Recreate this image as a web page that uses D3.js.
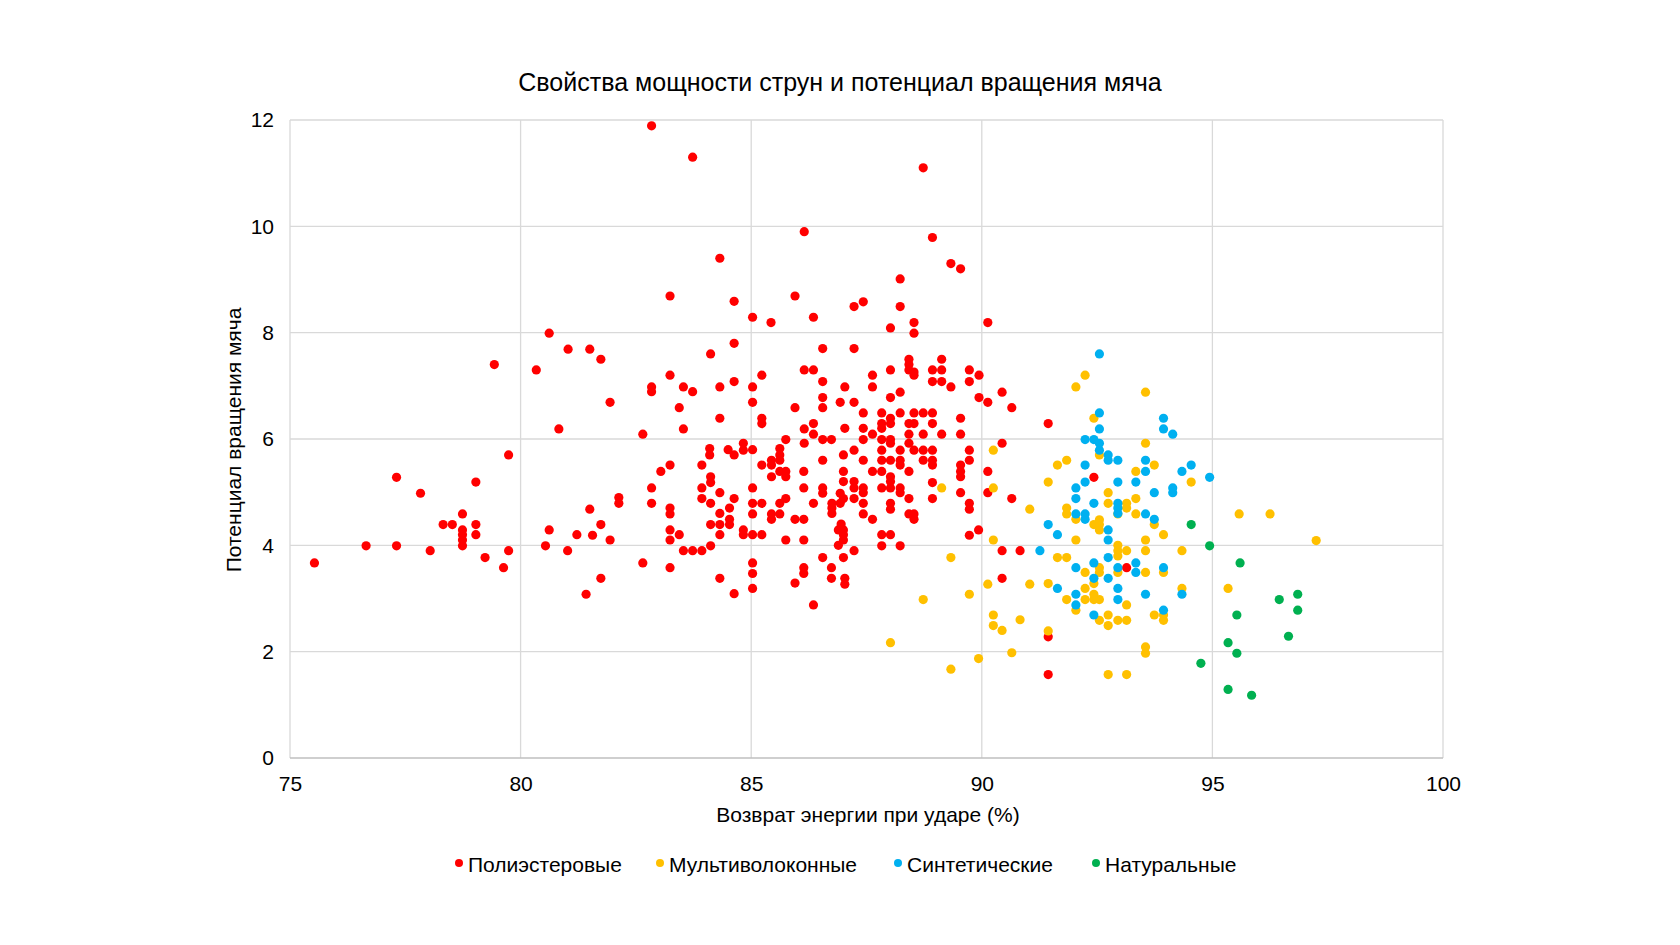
<!DOCTYPE html>
<html><head><meta charset="utf-8">
<script src="https://cdn.jsdelivr.net/npm/d3@7"></script>
<style>
html,body{margin:0;padding:0;background:#fff;}
svg text{font-family:"Liberation Sans",Arial,sans-serif;fill:#000;}
</style></head>
<body><svg id="chart" width="1680" height="945"></svg>
<script>
const chartTitle = "Свойства мощности струн и потенциал вращения мяча";
const xTitle = "Возврат энергии при ударе (%)";
const yTitle = "Потенциал вращения мяча";
const seriesNames = ["Полиэстеровые","Мультиволоконные","Синтетические","Натуральные"];
const seriesColors = ["#FF0000","#FFC000","#00B0F0","#00B050"];
const xTicks = [75,80,85,90,95,100];
const yTicks = [0,2,4,6,8,10,12];

const polyester = [
[80.62,7.99],[81.03,7.69],[81.5,7.69],[79.43,7.4],[80.34,7.3],[80.83,6.19],
[79.74,5.7],[77.31,5.28],[77.83,4.98],[79.03,5.19],[78.74,4.59],[78.32,4.39],[78.52,4.39],[78.74,4.29],[78.74,4.2],[78.74,4.1],[78.74,3.99],[79.03,4.39],[79.03,4.2],[76.65,3.99],[77.31,3.99],[78.04,3.9],[79.23,3.77],[79.74,3.9],[79.63,3.58],[75.53,3.67],[80.54,3.99],[80.62,4.29],[81.02,3.9],[81.22,4.2],[81.42,3.08],[81.5,4.68],
[82.84,11.89],[83.73,11.3],[86.15,9.9],[84.32,9.4],[83.24,8.69],[84.63,8.59],[85.03,8.29],[85.43,8.19],[85.95,8.69],[86.35,8.29],[81.74,7.5],[84.63,7.8],[84.12,7.6],[86.55,7.7],[83.24,7.2],[82.84,6.98],[82.84,6.89],[83.53,6.98],[83.73,6.89],[84.32,6.98],[84.63,7.08],[85.03,6.98],[85.23,7.2],[81.94,6.69],[83.44,6.59],[85.03,6.69],[86.15,7.3],[86.35,7.3],[86.55,7.08],[86.55,6.78],[86.55,6.59],[86.93,6.69],[85.95,6.59],[84.32,6.39],[83.53,6.19],[82.65,6.09],[85.23,6.39],[85.23,6.29],[86.15,6.19],[86.35,6.29],[86.35,6.09],[85.75,5.99],[86.55,5.99],[86.74,5.99],[84.83,5.92],[86.15,5.92],
[84.1,5.82],[84.1,5.7],[84.5,5.8],[84.63,5.7],[84.83,5.79],[85.03,5.8],[85.62,5.82],[85.62,5.7],[85.62,5.6],[83.24,5.51],[83.04,5.39],[83.93,5.51],[84.12,5.29],[84.12,5.18],[85.23,5.51],[85.44,5.6],[85.44,5.51],[85.44,5.29],[85.62,5.39],[85.75,5.39],[85.75,5.29],[86.14,5.39],[86.55,5.6],[82.84,5.08],[82.13,4.9],[82.13,4.79],[82.84,4.79],[83.93,5.08],[83.93,4.88],[84.12,4.79],[84.32,4.99],[84.63,4.88],[85.03,5.08],[85.03,4.79],[85.23,4.79],[85.62,4.79],[85.75,4.88],[86.14,5.08],[86.55,5.08],[86.55,4.98],[86.35,4.79],[86.75,4.79],[86.75,4.7],[86.75,4.6],[83.24,4.7],[83.24,4.59],[84.32,4.6],[84.53,4.7],[84.53,4.49],[84.53,4.39],[84.32,4.39],[84.12,4.39],[85.03,4.59],[85.44,4.59],[85.44,4.49],[85.62,4.59],[85.95,4.49],[86.14,4.49],[81.74,4.39],[81.56,4.19],[81.94,4.1],[83.24,4.29],[83.24,4.1],[83.44,4.2],[84.32,4.2],[84.83,4.29],[84.83,4.2],[85.03,4.2],[85.23,4.2],[85.75,4.1],[86.14,4.1],[86.89,4.29],[86.89,4.0],[83.53,3.9],[83.73,3.9],[83.93,3.9],[84.12,3.99],[82.65,3.67],[83.24,3.58],[81.74,3.38],[84.32,3.38],[84.63,3.09],[85.03,3.67],[85.03,3.47],[85.03,3.19],[85.95,3.29],[86.14,3.58],[86.14,3.47],[86.55,3.77],[86.74,3.58],[86.74,3.38],[86.35,2.88],
[88.73,11.1],[88.93,9.79],[89.33,9.3],[89.54,9.2],[88.23,9.01],[87.23,8.49],[87.43,8.58],[88.23,8.49],[88.02,8.09],[88.53,8.19],[88.53,7.99],[90.13,8.19],[87.23,7.7],[88.42,7.5],[88.42,7.4],[88.42,7.3],[88.53,7.26],[88.53,7.2],[89.13,7.5],[88.93,7.3],[89.13,7.3],[88.93,7.08],[89.13,7.08],[88.02,7.3],[87.63,7.2],[87.63,6.98],[87.03,6.98],[89.33,6.98],[89.73,7.3],[89.73,7.08],[89.94,7.2],[89.94,6.78],[90.13,6.69],[90.44,6.88],[90.65,6.59],[88.02,6.78],[88.23,6.88],[87.23,6.69],[87.43,6.49],[87.83,6.49],[88.23,6.49],[88.53,6.49],[88.73,6.49],[88.93,6.49],[88.02,6.39],[88.02,6.29],[87.83,6.29],[87.83,6.2],[88.42,6.29],[88.53,6.29],[88.93,6.29],[89.54,6.39],[87.03,6.2],[87.43,6.2],[87.63,6.09],[87.43,5.99],[87.83,5.99],[88.02,5.99],[88.42,6.09],[88.73,6.09],[89.13,6.09],[89.54,6.09],[88.42,5.92],[88.02,5.92],[90.44,5.92],
[87.23,5.79],[87.83,5.79],[88.23,5.79],[88.53,5.79],[88.73,5.79],[88.93,5.79],[89.73,5.79],[87.0,5.7],[87.43,5.6],[87.83,5.6],[88.02,5.6],[88.23,5.6],[88.23,5.51],[88.73,5.6],[88.93,5.6],[88.93,5.51],[89.73,5.6],[89.54,5.51],[89.54,5.39],[89.54,5.29],[87.0,5.39],[87.0,5.2],[87.63,5.39],[87.83,5.39],[88.42,5.39],[90.13,5.39],[88.02,5.29],[88.02,5.2],[88.02,5.08],[87.23,5.2],[87.23,5.08],[87.43,5.08],[87.43,4.99],[87.83,5.08],[88.23,5.08],[88.23,4.99],[88.93,5.18],[89.54,4.99],[90.13,4.99],[90.65,4.88],[86.93,4.98],[86.93,4.79],[87.0,4.88],[87.23,4.88],[87.43,4.79],[88.02,4.79],[88.02,4.68],[88.42,4.88],[88.93,4.88],[89.73,4.79],[89.73,4.68],[87.43,4.59],[87.63,4.49],[88.42,4.59],[88.53,4.59],[88.53,4.49],[89.93,4.29],[89.73,4.19],[86.95,4.4],[87.0,4.29],[87.0,4.2],[87.0,4.1],[87.83,4.2],[88.02,4.2],[87.83,3.99],[88.23,3.99],[87.23,3.9],[87.0,3.77],[87.03,3.38],[87.03,3.27],[90.44,3.9],[90.83,3.9],[90.44,3.38],
[91.44,6.29],[92.43,5.28],[93.14,3.58],[91.44,2.28],[91.44,1.57]
];

const multifilament = [
[90.25,5.79],[89.13,5.08],[90.25,5.08],[91.04,4.68],[90.25,4.1],[89.33,3.77],[90.13,3.27],[91.04,3.27],[89.73,3.08],[88.73,2.98],[90.25,2.69],[90.25,2.49],[90.44,2.4],[90.83,2.6],[88.02,2.17],[89.93,1.87],[90.65,1.98],[89.33,1.67],
[92.24,7.2],[92.04,6.98],[93.55,6.88],[92.43,6.39],[93.55,5.92],
[92.55,5.7],[91.64,5.51],[91.84,5.6],[93.74,5.51],[93.34,5.39],[91.44,5.19],[94.54,5.19],[92.74,4.99],[92.74,4.79],[93.34,4.88],[93.14,4.79],[93.14,4.7],[92.95,4.59],[93.34,4.59],[91.84,4.7],[91.84,4.59],[92.04,4.49],[92.43,4.39],[92.55,4.48],[92.55,4.39],[92.55,4.29],[93.74,4.39],[93.94,4.2],[92.04,4.1],[93.55,4.1],[93.55,3.9],[94.34,3.9],[92.95,4.0],[92.95,3.9],[92.95,3.8],[93.14,3.9],[91.64,3.77],[91.84,3.77],[92.55,3.58],[92.55,3.49],[92.95,3.49],[92.24,3.49],[93.55,3.49],[93.94,3.49],[92.43,3.28],[91.44,3.28],[92.24,3.19],[92.24,2.98],[92.43,3.08],[92.43,2.98],[92.55,2.98],[91.84,2.98],[92.04,2.78],[94.34,3.19],[93.14,2.88],[95.34,3.19],[93.94,2.69],[93.94,2.59],[93.74,2.69],[92.74,2.69],[92.74,2.49],[92.55,2.59],[92.95,2.59],[93.14,2.59],[91.44,2.39],[93.55,2.09],[93.55,1.97],[92.74,1.57],[93.14,1.57],[95.58,4.59],[96.25,4.59],[97.25,4.09]
];

const synthetic = [
[92.55,7.6],[92.55,6.49],[92.55,6.19],[93.94,6.39],[93.94,6.19],[94.14,6.09],[92.24,5.99],[92.43,5.99],[92.55,5.92],[92.55,5.79],[92.74,5.7],[92.74,5.6],[92.95,5.6],[92.24,5.51],[93.55,5.6],[93.55,5.39],[94.34,5.39],[94.54,5.51],[94.94,5.28],[92.24,5.19],[92.04,5.08],[92.95,5.19],[93.34,5.19],[94.14,5.08],[94.14,4.99],[93.74,4.99],[92.04,4.88],[92.43,4.79],[92.95,4.79],[92.95,4.7],[92.95,4.6],[93.55,4.59],[93.74,4.49],[92.04,4.59],[92.24,4.59],[92.24,4.49],[92.74,4.29],[91.44,4.39],[91.64,4.2],[92.74,4.1],[91.26,3.9],[92.74,3.77],[92.04,3.58],[92.43,3.67],[92.95,3.58],[93.34,3.67],[93.34,3.49],[93.94,3.58],[92.43,3.38],[92.74,3.38],[91.64,3.19],[92.95,3.19],[92.95,2.98],[92.04,3.08],[92.04,2.88],[93.55,3.08],[94.34,3.08],[92.43,2.69],[93.94,2.78]
];

const natural = [
[94.54,4.39],[94.94,3.99],[95.6,3.67],[95.53,2.69],[95.34,2.17],[95.53,1.97],[94.75,1.78],[95.34,1.29],[95.85,1.18],[96.45,2.98],[96.85,3.08],[96.85,2.78],[96.65,2.29]
];

const seriesData = [polyester, multifilament, synthetic, natural];

const svg = d3.select("#chart");
const plot = {left:290, right:1443, top:120, bottom:758};
const x = d3.scaleLinear().domain([75,100]).range([plot.left, plot.right]);
const y = d3.scaleLinear().domain([0,12]).range([plot.bottom, plot.top]);

// gridlines
const grid = svg.append("g");
grid.selectAll(".gx").data(xTicks).join("line")
  .attr("x1", d=>x(d)).attr("x2", d=>x(d))
  .attr("y1", plot.top).attr("y2", plot.bottom)
  .attr("stroke", "#d9d9d9").attr("stroke-width", 1.3);
grid.selectAll(".gy").data(yTicks).join("line")
  .attr("x1", plot.left).attr("x2", plot.right)
  .attr("y1", d=>y(d)).attr("y2", d=>y(d))
  .attr("stroke", d=> d===0 ? "#bfbfbf" : "#d9d9d9").attr("stroke-width", 1.3);

// axes (labels only)
const xAxis = svg.append("g").attr("transform", `translate(0,${plot.bottom})`)
  .call(d3.axisBottom(x).tickValues(xTicks).tickSize(0).tickPadding(18));
const yAxis = svg.append("g").attr("transform", `translate(${plot.left},0)`)
  .call(d3.axisLeft(y).tickValues(yTicks).tickSize(0).tickPadding(16));
[xAxis, yAxis].forEach(a=>{
  a.select(".domain").remove();
  a.selectAll("text").attr("font-size", 21).attr("font-family", '"Liberation Sans",Arial,sans-serif').attr("fill","#000");
});

// points
seriesData.forEach((data, i)=>{
  svg.append("g").selectAll("circle").data(data).join("circle")
    .attr("cx", d=>x(d[0])).attr("cy", d=>y(d[1]))
    .attr("r", 4.6).attr("fill", seriesColors[i]);
});

// titles
svg.append("text").attr("x", 840).attr("y", 91).attr("text-anchor","middle")
  .attr("font-size", 25).text(chartTitle);
svg.append("text").attr("x", 868).attr("y", 822).attr("text-anchor","middle")
  .attr("font-size", 21).text(xTitle);
svg.append("text").attr("transform", "translate(241,440) rotate(-90)").attr("text-anchor","middle")
  .attr("font-size", 21).text(yTitle);

// legend
const legendX = [459, 660, 898, 1096];
const lg = svg.append("g");
seriesNames.forEach((n,i)=>{
  lg.append("circle").attr("cx", legendX[i]).attr("cy", 863).attr("r", 4).attr("fill", seriesColors[i]);
  lg.append("text").attr("x", legendX[i]+9).attr("y", 872).attr("font-size", 21).text(n);
});
</script></body></html>
